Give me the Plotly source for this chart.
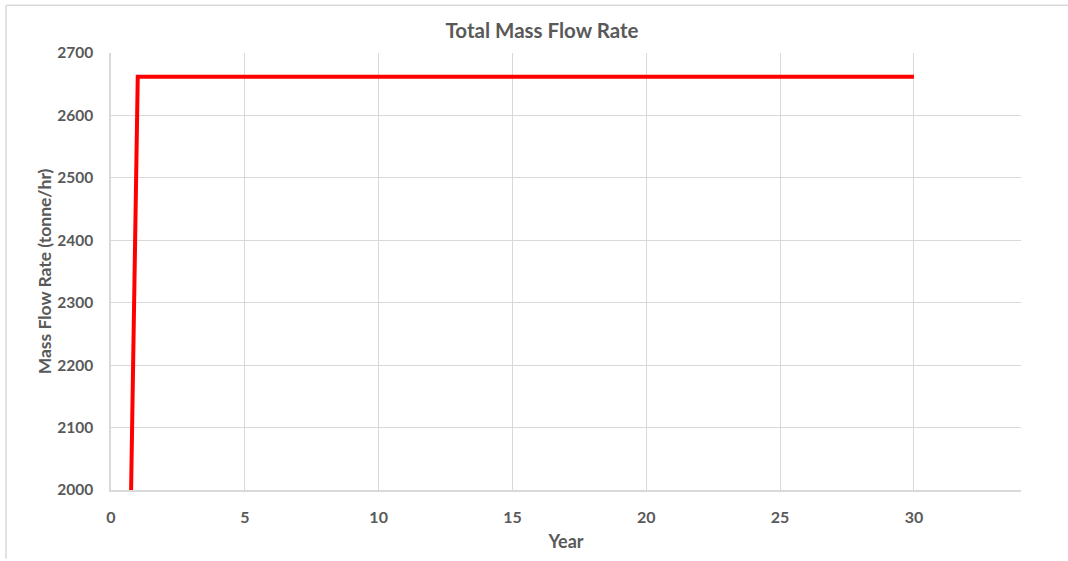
import plotly.graph_objects as go

# Annual total mass flow rate (tonne/hr) by project year
years = [0, 1, 2, 3, 4, 5, 6, 7, 8, 9, 10, 11, 12, 13, 14, 15,
         16, 17, 18, 19, 20, 21, 22, 23, 24, 25, 26, 27, 28, 29, 30]
mass_flow = [0, 2662, 2662, 2662, 2662, 2662, 2662, 2662, 2662, 2662, 2662,
             2662, 2662, 2662, 2662, 2662, 2662, 2662, 2662, 2662, 2662,
             2662, 2662, 2662, 2662, 2662, 2662, 2662, 2662, 2662, 2662]

x_ticks = [0, 5, 10, 15, 20, 25, 30]
y_ticks = [2000, 2100, 2200, 2300, 2400, 2500, 2600, 2700]

TEXT = "#595959"
GRID = "#D9D9D9"
FONT = "Lato"

fig = go.Figure()
fig.add_trace(go.Scatter(
    x=years, y=mass_flow, mode="lines",
    line=dict(color="#FF0000", width=4),
    hoverinfo="x+y", showlegend=False,
))

fig.update_layout(
    width=1068, height=561,
    margin=dict(l=111, r=47, t=53, b=69),
    paper_bgcolor="white", plot_bgcolor="white",
    title=dict(text="Total Mass Flow Rate", x=0.5075, xanchor="center",
               y=1 - 31 / 561, yanchor="middle",
               font=dict(family=FONT, size=20.5, color=TEXT, weight="bold")),
    xaxis=dict(
        range=[0, 34], tickvals=x_ticks, ticktext=[str(v) for v in x_ticks],
        showgrid=True, gridcolor=GRID, gridwidth=1,
        showline=True, linecolor=GRID, linewidth=1.5,
        zeroline=False, ticks="", ticklabelstandoff=12,
        tickfont=dict(family=FONT, size=16, color=TEXT, weight="bold"),
        title=dict(text="Year", standoff=10,
                   font=dict(family=FONT, size=18, color=TEXT, weight="bold")),
    ),
    yaxis=dict(
        range=[2000, 2700], tickvals=y_ticks, ticktext=[str(v) for v in y_ticks],
        showgrid=True, gridcolor=GRID, gridwidth=1,
        showline=True, linecolor=GRID, linewidth=1.5,
        zeroline=False, ticks="", ticklabelstandoff=13,
        tickfont=dict(family=FONT, size=15.5, color=TEXT, weight="bold"),
        title=dict(text="Mass Flow Rate (tonne/hr)", standoff=1,
                   font=dict(family=FONT, size=17.5, color=TEXT, weight="bold")),
    ),
    shapes=[
        # chart area frame (top and left edges)
        dict(type="line", xref="paper", yref="paper",
             x0=-105 / 910, x1=957 / 910, y0=487 / 439, y1=487 / 439,
             line=dict(color="#D9D9D9", width=1.5)),
        dict(type="line", xref="paper", yref="paper",
             x0=-105 / 910, x1=-105 / 910, y0=487 / 439, y1=-69 / 439,
             line=dict(color="#D9D9D9", width=1.5)),
    ],
)

fig.write_html("out.html")
